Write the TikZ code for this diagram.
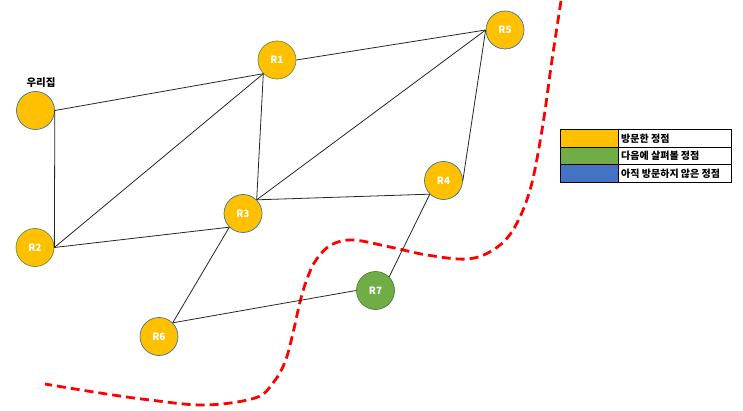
\documentclass[tikz,border=0pt]{standalone}
\usepackage{fontspec}
\setmainfont{Noto Sans CJK KR}
\definecolor{visited}{HTML}{FFC000}
\definecolor{nextc}{HTML}{70AD47}
\definecolor{unvis}{HTML}{4472C4}
\definecolor{bluebd}{HTML}{41719C}
\definecolor{greenbd}{HTML}{6E8B3D}
\definecolor{dkgreen}{HTML}{507E32}
\begin{document}
\begin{tikzpicture}[x=1pt,y=-1pt,
  vtx/.style={circle, minimum size=38pt, inner sep=0pt, draw=bluebd, line width=0.7pt, fill=visited, text=white, font=\bfseries\fontsize{10}{12}\selectfont},
  gvtx/.style={vtx, draw=greenbd},
  nvtx/.style={vtx, fill=nextc, draw=dkgreen},
  edge/.style={draw=black!85, line width=0.8pt},
  bound/.style={draw=red, line width=2.8pt, dash pattern=on 9pt off 5pt},
  cell/.style={draw=black, line width=1.2pt, anchor=north west, inner sep=0pt, minimum height=17.6pt},
  ltext/.style={anchor=west, font=\bfseries\fontsize{10}{12}\selectfont, inner sep=0pt}
]
\useasboundingbox (0,0) rectangle (743,411);

% boundary curve
\draw[bound] plot[smooth, tension=0.6] coordinates {(561,1) (552,60) (542,130) (530,190) (513,230) (493,250) (467,259) (427,255) (390,247) (353,240) (331,245) (316,260) (307,279) (300,302) (293,333) (285,362) (273,383) (255,398) (205,405) (150,400) (100,393) (45,384)};

% vertices
\node[vtx] (home) at (35.5,110.5) {};
\node[font=\bfseries\fontsize{10.5}{12}\selectfont, inner sep=0pt] (homelbl) at (41,83) {우리집};
\node[gvtx] (r1) at (277,60) {R1};
\node[vtx] (r5) at (505,30) {R5};
\node[gvtx] (r2) at (35,247.5) {R2};
\node[vtx] (r3) at (243,213.5) {R3};
\node[vtx] (r4) at (443.5,180.5) {R4};
\node[nvtx] (r7) at (375.5,290.5) {R7};
\node[vtx] (r6) at (159,336.5) {R6};

% edges
\draw[edge] (home.east) -- (r1.south west);
\draw[edge] (home.east) -- (r2.east);
\draw[edge] (r2.east) -- (r1.south west);
\draw[edge] (r2.east) -- (r3.south west);
\draw[edge] (r3.north east) -- (r1.south west);
\draw[edge] (r1.east) -- (r5.west);
\draw[edge] (r3.north east) -- (r5.west);
\draw[edge] (r3.north east) -- (r4.south west);
\draw[edge] (r4.east) -- (r5.west);
\draw[edge] (r3.south west) -- (r6.north east);
\draw[edge] (r6.north east) -- (r7.west);
\draw[edge] (r7.north east) -- (r4.south west);

% legend
\node[cell, fill=visited, minimum width=58pt] (lc1) at (560,129) {};
\node[cell, minimum width=113pt] (lt1) at (618,129) {};
\node[cell, fill=nextc, minimum width=58pt] (lc2) at (560,146.6) {};
\node[cell, minimum width=113pt] (lt2) at (618,146.6) {};
\node[cell, fill=unvis, minimum width=58pt] (lc3) at (560,164.2) {};
\node[cell, minimum width=113pt] (lt3) at (618,164.2) {};
\node[ltext] (lx1) at ([xshift=3pt]lt1.west) {방문한 정점};
\node[ltext] (lx2) at ([xshift=3pt]lt2.west) {다음에 살펴볼 정점};
\node[ltext] (lx3) at ([xshift=3pt]lt3.west) {아직 방문하지 않은 정점};
\end{tikzpicture}
\end{document}
